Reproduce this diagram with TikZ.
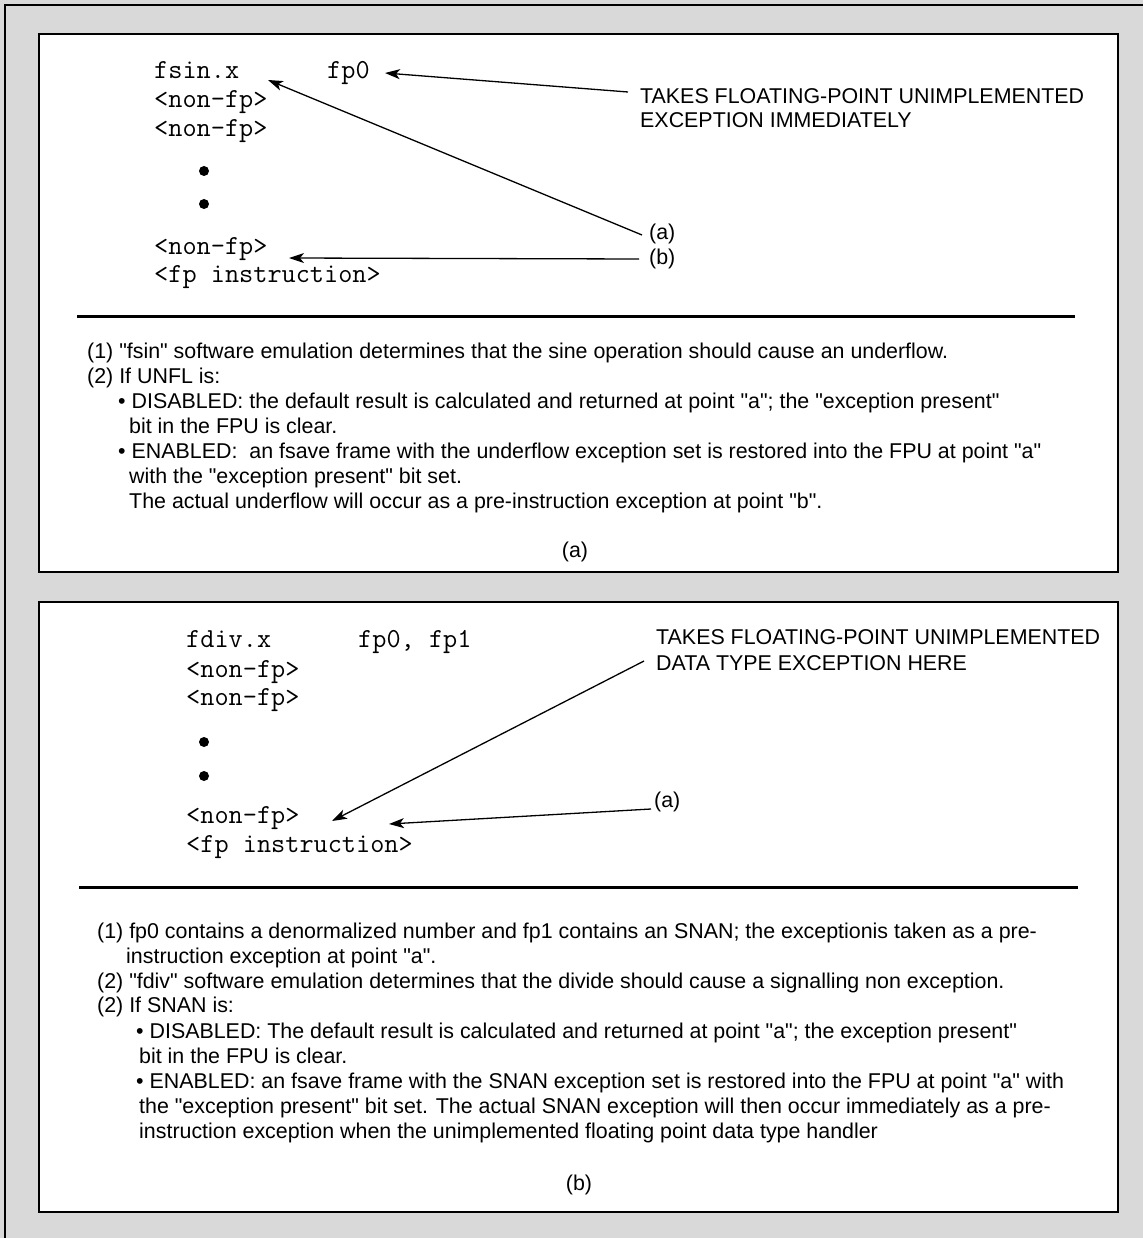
\documentclass[tikz,border=0pt]{standalone}
\usepackage{fontspec}
\setmainfont{Liberation Sans}[Ligatures=TeXOff]
\usetikzlibrary{arrows.meta}
\definecolor{bg}{RGB}{217,217,217}
\begin{document}
\begin{tikzpicture}[x=1pt,y=-1pt,
  code/.style={anchor=base west, inner sep=0pt, font=\fontsize{27.5}{29}\ttfamily},
  body/.style={anchor=base west, inner sep=0pt, font=\fontsize{21.4}{25}\selectfont},
  caption/.style={anchor=base, inner sep=0pt, font=\fontsize{21.4}{25}\selectfont},
  arr/.style={-{Stealth[length=15pt,width=10pt,inset=4pt]}, line width=1.3pt},
  box/.style={draw=black, line width=2.6pt, fill=white},
  rulebar/.style={line width=3pt},
  dotmark/.style={circle, fill=black, inner sep=0pt, minimum size=10pt}
]
\useasboundingbox (0,0) rectangle (1143,1238);
\fill[bg] (0,0) rectangle (1143,1238);
\draw[line width=2pt] (5,1238) -- (5,5) -- (1143,5);

% ---------------- box (a) ----------------
\draw[box] (39,34) rectangle (1118,572);
\node[code] (c1) at (154,79) {fsin.x};
\node[code] (c1b) at (327,79) {fp0};
\node[code] (c2) at (154,108) {<non-fp>};
\node[code] (c3) at (154,137) {<non-fp>};
\node[dotmark] (d1) at (204,171) {};
\node[dotmark] (d2) at (204,204) {};
\node[code] (c4) at (154,255) {<non-fp>};
\node[code] (c5) at (154,283) {<fp instruction>};

\node[body] (ta1) at (640,104) {TAKES FLOATING-POINT UNIMPLEMENTED};
\node[body] (ta2) at (640,128) {EXCEPTION IMMEDIATELY};
\node[body] (la) at (649,240) {(a)};
\node[body] (lb) at (649,265) {(b)};

\coordinate (sA1) at (628,92);
\coordinate (eA1) at (385,73);
\coordinate (sA2) at (642,235);
\coordinate (eA2) at (268,80);
\coordinate (sA3) at (639,259);
\coordinate (eA3) at (289,258);
\draw[arr] (sA1) -- (eA1);
\draw[arr] (sA2) -- (eA2);
\draw[arr] (sA3) -- (eA3);

\draw[rulebar] (77,316) -- (1075,316);

\node[body] (a1) at (87,358) {(1) "fsin" software emulation determines that the sine operation should cause an underflow.};
\node[body] (a2) at (87,383) {(2) If UNFL is:};
\node[body] (a3) at (118,408) {• DISABLED: the default result is calculated and returned at point "a"; the "exception present"};
\node[body] (a4) at (129,433) {bit in the FPU is clear.};
\node[body] (a5) at (118,458) {• ENABLED:\ \ an fsave frame with the underflow exception set is restored into the FPU at point "a"};
\node[body] (a6) at (129,483) {with the "exception present" bit set.};
\node[body] (a7) at (129,508) {The actual underflow will occur as a pre-instruction exception at point "b".};
\node[caption] (capa) at (575,557) {(a)};

% ---------------- box (b) ----------------
\draw[box] (39,602) rectangle (1118,1212);
\node[code] (e1) at (186,647) {fdiv.x};
\node[code] (e1b) at (358,647) {fp0, fp1};
\node[code] (e2) at (186,677) {<non-fp>};
\node[code] (e3) at (186,705) {<non-fp>};
\node[dotmark] (d3) at (204,742) {};
\node[dotmark] (d4) at (204,776) {};
\node[code] (e4) at (186,823) {<non-fp>};
\node[code] (e5) at (186,852) {<fp instruction>};

\node[body] (tb1) at (656,644) {TAKES FLOATING-POINT UNIMPLEMENTED};
\node[body] (tb2) at (656,670) {DATA TYPE EXCEPTION HERE};
\node[body] (lc) at (654,807) {(a)};

\coordinate (sB1) at (644,661);
\coordinate (eB1) at (332,821);
\coordinate (sB2) at (651,809);
\coordinate (eB2) at (389,824);
\draw[arr] (sB1) -- (eB1);
\draw[arr] (sB2) -- (eB2);

\draw[rulebar] (79,887) -- (1078,887);

\node[body] (b1) at (97,938) {(1) fp0 contains a denormalized number and fp1 contains an SNAN; the exceptionis taken as a pre-};
\node[body] (b2) at (126,963) {instruction exception at point "a".};
\node[body] (b3) at (97,988) {(2) "fdiv" software emulation determines that the divide should cause a signalling non exception.};
\node[body] (b4) at (97,1012) {(2) If SNAN is:};
\node[body] (b5) at (136,1038) {• DISABLED: The default result is calculated and returned at point "a"; the exception present"};
\node[body] (b6) at (139,1063) {bit in the FPU is clear.};
\node[body] (b7) at (136,1088) {• ENABLED: an fsave frame with the SNAN exception set is restored into the FPU at point "a" with};
\node[body] (b8) at (139,1113) {the "exception present" bit set. The actual SNAN exception will then occur immediately as a pre-};
\node[body] (b9) at (139,1138) {instruction exception when the unimplemented floating point data type handler};
\node[caption] (capb) at (579,1190) {(b)};
\end{tikzpicture}
\end{document}
